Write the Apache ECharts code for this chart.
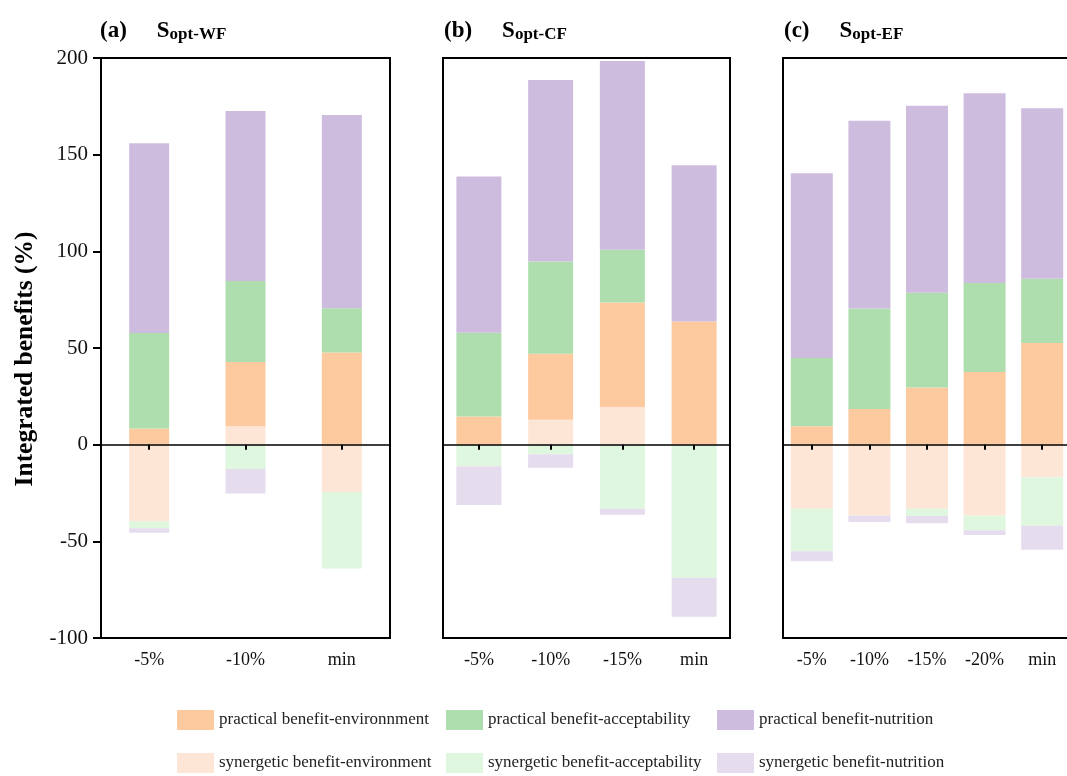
<!DOCTYPE html>
<html>
<head>
<meta charset="utf-8">
<script src="https://cdn.jsdelivr.net/npm/echarts@6/dist/echarts.min.js"></script>
<style>
  html, body { margin: 0; padding: 0; background: #fff; overflow: hidden; }
  /* the third panel runs past the right edge of the page */
  #chart { width: 1080px; height: 776px; }
</style>
</head>
<body>
<div id="chart"></div>
<script>
// Categories for each scenario panel
const catsA = ['-5%', '-10%', 'min'];
const catsB = ['-5%', '-10%', '-15%', 'min'];
const catsC = ['-5%', '-10%', '-15%', '-20%', 'min'];

// Value-axis ticks
const yMin = -100;
const yMax = 200;
const yStep = 50;

// (a) S_opt-WF
const synEnvA  = [-39.6, 9.5, -24.5];
const pracEnvA = [8.4, 33.2, 47.7];
const pracAccA = [49.3, 41.9, 22.9];
const pracNutA = [98.2, 88.0, 99.9];
const synAccA  = [-3.6, -12.6, -39.6];
const synNutA  = [-2.4, -12.7, 0];

// (b) S_opt-CF
const synEnvB  = [0, 12.9, 19.5, 0];
const pracEnvB = [14.6, 34.1, 54.0, 63.7];
const pracAccB = [43.3, 47.7, 27.3, 0];
const pracNutB = [80.8, 93.9, 97.6, 80.8];
const synAccB  = [-11.2, -5.0, -33.1, -68.9];
const synNutB  = [-20.0, -7.0, -3.1, -20.1];

// (c) S_opt-EF
const synEnvC  = [-33.1, -36.7, -33.1, -36.7, -16.9];
const pracEnvC = [9.5, 18.4, 29.6, 37.6, 52.6];
const pracAccC = [35.3, 52.0, 49.0, 46.0, 33.2];
const pracNutC = [95.6, 97.2, 96.7, 98.2, 88.2];
const synAccC  = [-22.0, 0, -3.8, -7.6, -25.1];
const synNutC  = [-5.2, -3.3, -3.8, -2.4, -12.3];

const NAMES = {
  pEnv: 'practical benefit-environnment',
  pAcc: 'practical benefit-acceptability',
  pNut: 'practical benefit-nutrition',
  sEnv: 'synergetic benefit-environment',
  sAcc: 'synergetic benefit-acceptability',
  sNut: 'synergetic benefit-nutrition'
};
const COLORS = {
  pEnv: '#FDCA9F', pAcc: '#AEDEAD', pNut: '#CEBCDE',
  sEnv: '#FEE6D6', sAcc: '#DFF6DF', sNut: '#E5DCEE'
};

const SERIF = '"Times New Roman", "Liberation Serif", "DejaVu Serif", serif';

const panels = [
  { cats: catsA, left: 101, width: 289, barWidth: 40, title: '(a)', sub: 'opt-WF', tLeft: 100,
    d: { sEnv: synEnvA, pEnv: pracEnvA, pAcc: pracAccA, pNut: pracNutA, sAcc: synAccA, sNut: synNutA } },
  { cats: catsB, left: 443, width: 287, barWidth: 45, title: '(b)', sub: 'opt-CF', tLeft: 444,
    d: { sEnv: synEnvB, pEnv: pracEnvB, pAcc: pracAccB, pNut: pracNutB, sAcc: synAccB, sNut: synNutB } },
  { cats: catsC, left: 783, width: 288, barWidth: 42, title: '(c)', sub: 'opt-EF', tLeft: 784,
    d: { sEnv: synEnvC, pEnv: pracEnvC, pAcc: pracAccC, pNut: pracNutC, sAcc: synAccC, sNut: synNutC } }
];

// Stack order: positive synergetic environment sits under the practical parts,
// negative parts stack downward as environment, acceptability, nutrition.
const stackOrder = ['sEnv', 'pEnv', 'pAcc', 'pNut', 'sAcc', 'sNut'];

const grid = [], xAxis = [], yAxis = [], series = [], title = [];

panels.forEach((p, i) => {
  grid.push({
    left: p.left, top: 58, width: p.width, height: 580,
    show: true, borderColor: '#000', borderWidth: 2, backgroundColor: 'transparent'
  });
  // zero line with ticks
  xAxis.push({
    type: 'category', gridIndex: i, data: p.cats, position: 'bottom', z: 10,
    axisLine: { onZero: true, lineStyle: { color: '#000', width: 1.5 } },
    axisTick: { show: true, alignWithLabel: true, length: 5, lineStyle: { color: '#000', width: 2 } },
    axisLabel: { show: false }, splitLine: { show: false }
  });
  // category labels below the frame
  xAxis.push({
    type: 'category', gridIndex: i, data: p.cats, position: 'bottom',
    axisLine: { show: false, onZero: false }, axisTick: { show: false },
    axisLabel: { show: true, margin: 13, fontFamily: SERIF, fontSize: 18, color: '#111' },
    splitLine: { show: false }
  });
  yAxis.push({
    type: 'value', gridIndex: i, min: yMin, max: yMax, interval: yStep,
    axisLine: { show: i === 0, lineStyle: { color: '#000', width: 2 } },
    axisTick: { show: i === 0, length: 8, lineStyle: { color: '#000', width: 2 } },
    axisLabel: { show: i === 0, margin: 13, fontFamily: SERIF, fontSize: 21, color: '#111' },
    splitLine: { show: false }
  });
  stackOrder.forEach(k => {
    series.push({
      name: NAMES[k], type: 'bar', xAxisIndex: i * 2, yAxisIndex: i,
      stack: 'p' + i, data: p.d[k], barWidth: p.barWidth,
      itemStyle: { color: COLORS[k] }, emphasis: { disabled: true }
    });
  });
  title.push({
    left: p.tLeft, top: 20, padding: 0,
    text: '{p|' + p.title + '}{g|}{s|S}{sub|' + p.sub + '}',
    textStyle: {
      rich: {
        p: { fontFamily: SERIF, fontSize: 23, fontWeight: 'bold', color: '#000', verticalAlign: 'bottom' },
        g: { width: 30 },
        s: { fontFamily: SERIF, fontSize: 23, fontWeight: 'bold', color: '#000', verticalAlign: 'bottom' },
        sub: { fontFamily: SERIF, fontSize: 17, fontWeight: 'bold', color: '#000', verticalAlign: 'bottom' }
      }
    }
  });
});

// One legend per entry so the entries line up in columns
const legendPos = [
  { k: 'pEnv', left: 177, top: 710 }, { k: 'pAcc', left: 446, top: 710 }, { k: 'pNut', left: 717, top: 710 },
  { k: 'sEnv', left: 177, top: 753 }, { k: 'sAcc', left: 446, top: 753 }, { k: 'sNut', left: 717, top: 753 }
];
const legend = legendPos.map(l => ({
  data: [NAMES[l.k]], left: l.left, top: l.top, padding: 0,
  itemWidth: 37, itemHeight: 20, icon: 'rect', selectedMode: false,
  textStyle: { fontFamily: SERIF, fontSize: 17, color: '#222' }
}));

// Shared value-axis title, rotated along the left edge
const graphic = [{
  type: 'text', x: 25, y: 359, rotation: Math.PI / 2,
  style: {
    text: 'Integrated benefits (%)', font: 'bold 25.5px ' + SERIF,
    fill: '#000', align: 'center', verticalAlign: 'middle'
  }
}];

const chart = echarts.init(document.getElementById('chart'), null, { renderer: 'canvas' });
chart.setOption({
  animation: false,
  backgroundColor: '#fff',
  title, grid, xAxis, yAxis, series, legend, graphic
});
</script>
</body>
</html>
